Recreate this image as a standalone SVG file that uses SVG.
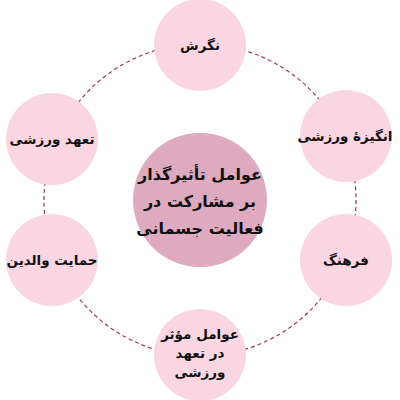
<svg xmlns="http://www.w3.org/2000/svg" width="400" height="400" viewBox="0 0 400 400">
<style>
.outer{fill:#f9d6e2;}
.center{fill:#deaac0;}
.t{font-family:"DejaVu Sans","Noto Sans",sans-serif;font-weight:bold;font-size:13.5px;fill:#111;text-anchor:middle;direction:rtl;}
.tc{font-family:"DejaVu Sans","Noto Sans",sans-serif;font-weight:bold;font-size:16px;fill:#111;text-anchor:middle;direction:rtl;}
.ring{fill:none;stroke:#a3336e;stroke-width:1.2;stroke-dasharray:4 3;}
</style>
<rect width="400" height="400" fill="#ffffff"/>
<g id="connectors">
<circle class="ring" cx="200" cy="200" r="156"/>
</g>
<g id="center">
<circle class="center" cx="200" cy="200" r="67"/>
<text class="tc" x="200" y="180">عوامل تأثیرگذار</text>
<text class="tc" x="200" y="207">بر مشارکت در</text>
<text class="tc" x="200" y="234">فعالیت جسمانی</text>
</g>
<g id="n-top">
<circle class="outer" cx="200" cy="45" r="46"/>
<text class="t" x="200" y="50">نگرش</text>
</g>
<g id="n-right-top">
<circle class="outer" cx="346" cy="136" r="46"/>
<text class="t" x="345" y="141">انگیزهٔ ورزشی</text>
</g>
<g id="n-right-bottom">
<circle class="outer" cx="346" cy="260" r="46"/>
<text class="t" x="346" y="265">فرهنگ</text>
</g>
<g id="n-bottom">
<circle class="outer" cx="200" cy="355" r="46"/>
<text class="t" x="200" y="339">عوامل مؤثر</text>
<text class="t" x="200" y="358">در تعهد</text>
<text class="t" x="200" y="377">ورزشی</text>
</g>
<g id="n-left-bottom">
<circle class="outer" cx="52" cy="260" r="46"/>
<text class="t" x="52" y="265">حمایت والدین</text>
</g>
<g id="n-left-top">
<circle class="outer" cx="52" cy="139" r="46"/>
<text class="t" x="52" y="144">تعهد ورزشی</text>
</g>
</svg>
